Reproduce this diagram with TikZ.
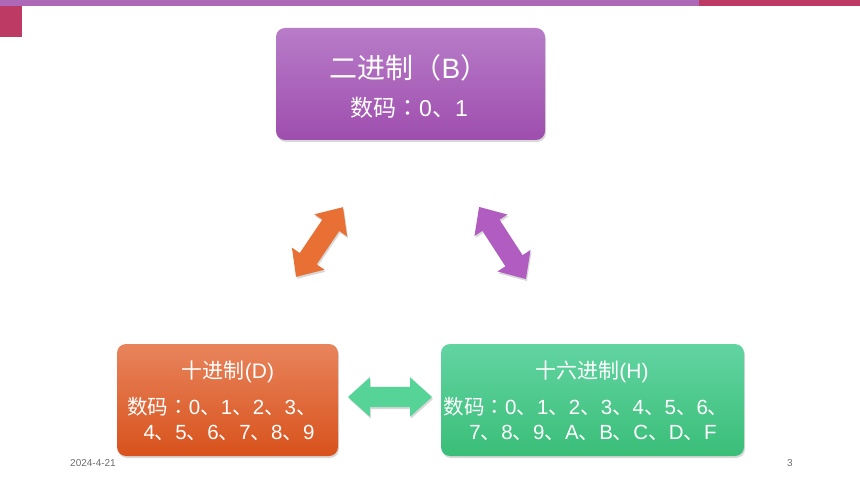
\documentclass[tikz,border=0pt]{standalone}
\usepackage{fontspec}
\setmainfont{Liberation Sans}
\newfontfamily\cjkfont{Noto Sans CJK SC}
\newfontfamily\cjktcfont{Noto Sans CJK TC}
\newcommand{\zh}[1]{{\cjkfont #1}}
\newcommand{\zhcolon}{{\cjktcfont ：}}
\newfontfamily\footfont{Liberation Sans}
\usetikzlibrary{shapes.arrows,shadows}
\definecolor{barpurple}{RGB}{174,104,184}
\definecolor{barred}{RGB}{188,58,100}
\definecolor{purtop}{RGB}{184,124,200}
\definecolor{purbot}{RGB}{158,78,174}
\definecolor{ortop}{RGB}{232,132,92}
\definecolor{orbot}{RGB}{216,82,28}
\definecolor{grtop}{RGB}{98,212,162}
\definecolor{grbot}{RGB}{58,190,120}
\definecolor{arrorange}{RGB}{232,112,52}
\definecolor{arrpurple}{RGB}{176,92,192}
\definecolor{arrgreen}{RGB}{86,212,152}
\definecolor{footgray}{RGB}{110,110,110}
\begin{document}
\begin{tikzpicture}[x=1pt,y=-1pt,
  box/.style={rounded corners=9pt, draw=none, inner sep=0pt,
    drop shadow={opacity=0.3,shadow xshift=1pt,shadow yshift=-2pt}},
  btext/.style={text=white, inner sep=0pt, anchor=base},
  darrow/.style={double arrow, inner xsep=0pt, inner ysep=10pt,
    double arrow head extend=9.5pt, double arrow tip angle=84, minimum height=84pt,
    draw=none, drop shadow={opacity=0.3,shadow xshift=1pt,shadow yshift=-2pt}},
  foot/.style={text=footgray, inner sep=0pt, font=\footfont\fontsize{10}{12}\selectfont}
]
\useasboundingbox[fill=white] (0,0) rectangle (860,484);
\fill[barpurple] (0,0) rectangle (699,6);
\fill[barred] (699,0) rectangle (860,6);
\fill[barred] (0,6) rectangle (22,37);

% boxes
\node[box, minimum width=269pt, minimum height=112pt, top color=purtop, bottom color=purbot] (bin) at (410.5,84) {};
\node[box, minimum width=221pt, minimum height=112pt, top color=ortop, bottom color=orbot] (dec) at (227.5,400) {};
\node[box, minimum width=303pt, minimum height=112pt, top color=grtop, bottom color=grbot] (hex) at (592.5,400) {};

% texts
\node[btext, font=\fontsize{28}{32}\selectfont] (binT) at (409,78.5) {\zh{二进制（}B\zh{）}};
\node[btext, font=\fontsize{23}{27}\selectfont] (binD) at (409,117) {\zh{数码}\zhcolon0\zh{、}1};

\node[btext, font=\fontsize{21}{25}\selectfont] (decT) at (228,378) {\zh{十进制}(D)};
\node[btext, font=\fontsize{20.5}{24}\selectfont] (decD1) at (222,414) {\zh{数码}\zhcolon0\zh{、}1\zh{、}2\zh{、}3\zh{、}};
\node[btext, font=\fontsize{20.5}{24}\selectfont] (decD2) at (229,439) {4\zh{、}5\zh{、}6\zh{、}7\zh{、}8\zh{、}9};

\node[btext, font=\fontsize{21}{25}\selectfont] (hexT) at (592,378) {\zh{十六进制}(H)};
\node[btext, font=\fontsize{20.5}{24}\selectfont] (hexD1) at (586,414) {\zh{数码}\zhcolon0\zh{、}1\zh{、}2\zh{、}3\zh{、}4\zh{、}5\zh{、}6\zh{、}};
\node[btext, font=\fontsize{20.5}{24}\selectfont] (hexD2) at (593,439) {7\zh{、}8\zh{、}9\zh{、}A\zh{、}B\zh{、}C\zh{、}D\zh{、}F};

% arrows
\node[darrow, fill=arrorange, rotate=56] (a1) at (319.5,242) {};
\node[darrow, fill=arrpurple, rotate=-57, minimum height=86pt] (a2) at (502.5,243) {};
\node[darrow, fill=arrgreen] (a3) at (390,397) {};

% footer
\node[foot] (date) at (93,463) {2024-4-21};
\node[foot] (page) at (790,463) {3};
\end{tikzpicture}
\end{document}
